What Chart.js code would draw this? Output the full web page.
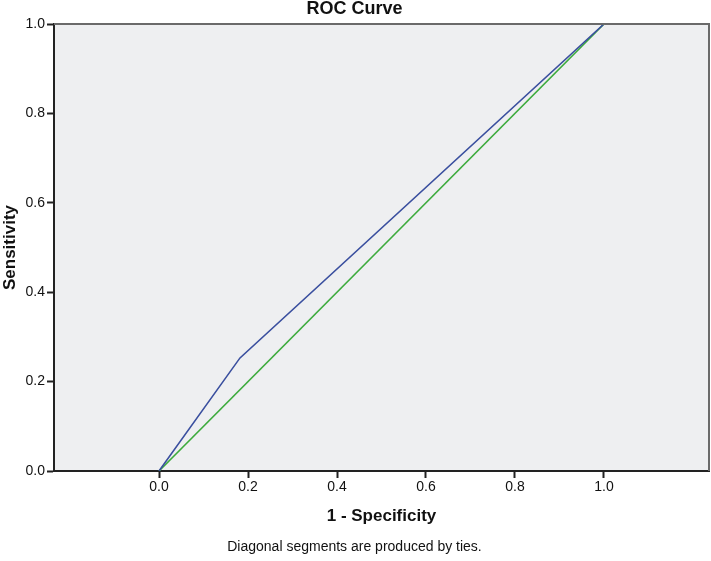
<!DOCTYPE html>
<html>
<head>
<meta charset="utf-8">
<title>ROC Curve</title>
<script src="https://cdn.jsdelivr.net/npm/chart.js@4"></script>
<style>
  html, body { margin: 0; padding: 0; background: #ffffff; }
  #roc { display: block; }
</style>
</head>
<body>
<canvas id="roc" width="711" height="561"></canvas>
<script>
/* ---------- Data ---------- */
const rocX = [0, 0.182, 1];       // 1 - specificity
const rocY = [0, 0.253, 1];       // sensitivity
const refX = [0, 1];              // reference diagonal
const refY = [0, 1];
const xTickValues = [0, 0.2, 0.4, 0.6, 0.8, 1.0];
const yTickValues = [0, 0.2, 0.4, 0.6, 0.8, 1.0];

const toPoints = (xs, ys) => xs.map((x, i) => ({ x: x, y: ys[i] }));

/* ---------- Plot background + frame ---------- */
const plotFrame = {
    id: "plotFrame",
    beforeDraw(chart) {
        const { ctx, chartArea: a } = chart;
        ctx.save();
        ctx.fillStyle = "#eeeff1";
        ctx.fillRect(a.left, a.top, a.right - a.left, a.bottom - a.top);
        ctx.restore();
    },
    afterDatasetsDraw(chart) {
        const { ctx, chartArea: a } = chart;
        ctx.save();
        ctx.strokeStyle = "#6a6a6a";
        ctx.lineWidth = 2;
        ctx.beginPath();
        ctx.moveTo(a.left, a.top);
        ctx.lineTo(a.right, a.top);
        ctx.lineTo(a.right, a.bottom);
        ctx.stroke();
        ctx.restore();
    }
};

const FONT = "Arial, 'Liberation Sans', sans-serif";
const tickFont = { family: FONT, size: 14 };
const titleFont = { family: FONT, size: 17, weight: "bold" };

new Chart(document.getElementById("roc"), {
    type: "scatter",
    data: {
        datasets: [
            {
                label: "ROC",
                data: toPoints(rocX, rocY),
                showLine: true,
                borderColor: "#3a4f9f",
                borderWidth: 1.6,
                pointRadius: 0,
                tension: 0
            },
            {
                label: "Reference",
                data: toPoints(refX, refY),
                showLine: true,
                borderColor: "#3dab3d",
                borderWidth: 1.6,
                pointRadius: 0,
                tension: 0
            }
        ]
    },
    options: {
        responsive: false,
        animation: false,
        layout: { padding: { left: 0, right: 2, top: 0, bottom: 0 } },
        plugins: {
            legend: { display: false },
            tooltip: { enabled: false },
            title: {
                display: true,
                text: "ROC Curve",
                color: "#111",
                font: { family: FONT, size: 18, weight: "bold", lineHeight: 1 },
                padding: { top: 0, bottom: 6 }
            },
            subtitle: {
                display: true,
                position: "bottom",
                text: "Diagonal segments are produced by ties.",
                color: "#111",
                font: { family: FONT, size: 14 },
                padding: { top: 0, bottom: 5 }
            }
        },
        scales: {
            x: {
                type: "linear",
                min: -0.236,
                max: 1.236,
                afterBuildTicks: (scale) => {
                    scale.ticks = xTickValues.map(v => ({ value: v }));
                },
                afterFit: (scale) => { scale.height = 68.2; },
                grid: { display: true, drawOnChartArea: false, drawTicks: true, tickLength: 7, tickColor: "#222", tickWidth: 2 },
                border: { display: true, color: "#222", width: 2 },
                ticks: {
                    color: "#111",
                    font: tickFont,
                    padding: 1,
                    maxRotation: 0,
                    callback: (v) => Number(v).toFixed(1)
                },
                title: {
                    display: true,
                    text: "1 - Specificity",
                    color: "#111",
                    font: titleFont,
                    padding: { top: 0, bottom: 13 }
                }
            },
            y: {
                type: "linear",
                min: 0,
                max: 1,
                afterBuildTicks: (scale) => {
                    scale.ticks = yTickValues.map(v => ({ value: v }));
                },
                afterFit: (scale) => { scale.width = 54; },
                grid: { display: true, drawOnChartArea: false, drawTicks: true, tickLength: 7, tickColor: "#222", tickWidth: 2 },
                border: { display: true, color: "#222", width: 2 },
                ticks: {
                    color: "#111",
                    font: tickFont,
                    padding: 2,
                    callback: (v) => Number(v).toFixed(1)
                },
                title: {
                    display: true,
                    text: "Sensitivity",
                    color: "#111",
                    font: titleFont,
                    padding: { top: 0, bottom: 0 }
                }
            }
        }
    },
    plugins: [plotFrame]
});
</script>
</body>
</html>
